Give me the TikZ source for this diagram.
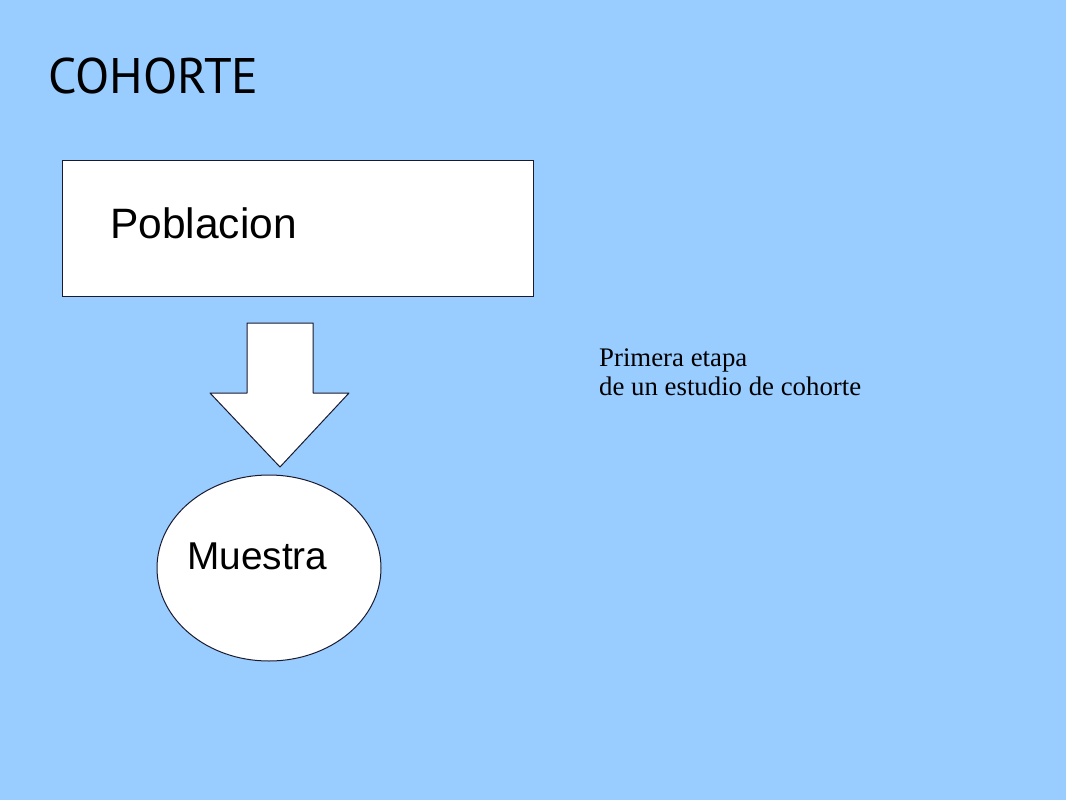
\documentclass[tikz,border=0pt]{standalone}
\usepackage{fontspec}
\setmainfont{Liberation Serif}
\setsansfont{Liberation Sans}
\newfontfamily\titlefont{PT Sans}
\usetikzlibrary{shapes.geometric}
\definecolor{bgblue}{HTML}{99CCFF}
\definecolor{edgecol}{HTML}{1A1A2E}
\tikzset{
  whiteshape/.style={draw=edgecol, fill=white, line width=1pt},
  bigsans/.style={font=\sffamily\fontsize{#1}{#1}\selectfont, inner sep=0pt, anchor=base west},
  serifnote/.style={font=\rmfamily\fontsize{26.8}{28.5}\selectfont, inner sep=0pt, align=left, anchor=base west}
}
\begin{document}
\begin{tikzpicture}[x=1pt,y=-1pt]
\fill[bgblue] (0,0) rectangle (1066,800);
\useasboundingbox (0,0) rectangle (1066,800);
\node[font=\titlefont\fontsize{50}{60}\selectfont, inner sep=0pt, anchor=base west] (title) at (48,94) {COHORTE};
\node[whiteshape, minimum width=471pt, minimum height=136pt, inner sep=0pt, anchor=north west] (pob) at (62,160) {};
\node[bigsans=42.5] (poblabel) at (110,238) {Poblacion};
\draw[whiteshape, line join=round] (247,323) -- (313,323) -- (313,393) -- (349,393) -- (280,467) -- (210,393) -- (247,393) -- cycle;
\node[whiteshape, ellipse, minimum width=224pt, minimum height=186pt, inner sep=0pt] (mue) at (269,568) {};
\node[bigsans=38.8] (muelabel) at (187,569) {Muestra};
\node[serifnote] (note) at (599,395) {Primera etapa\\de un estudio de cohorte};
\end{tikzpicture}
\end{document}
